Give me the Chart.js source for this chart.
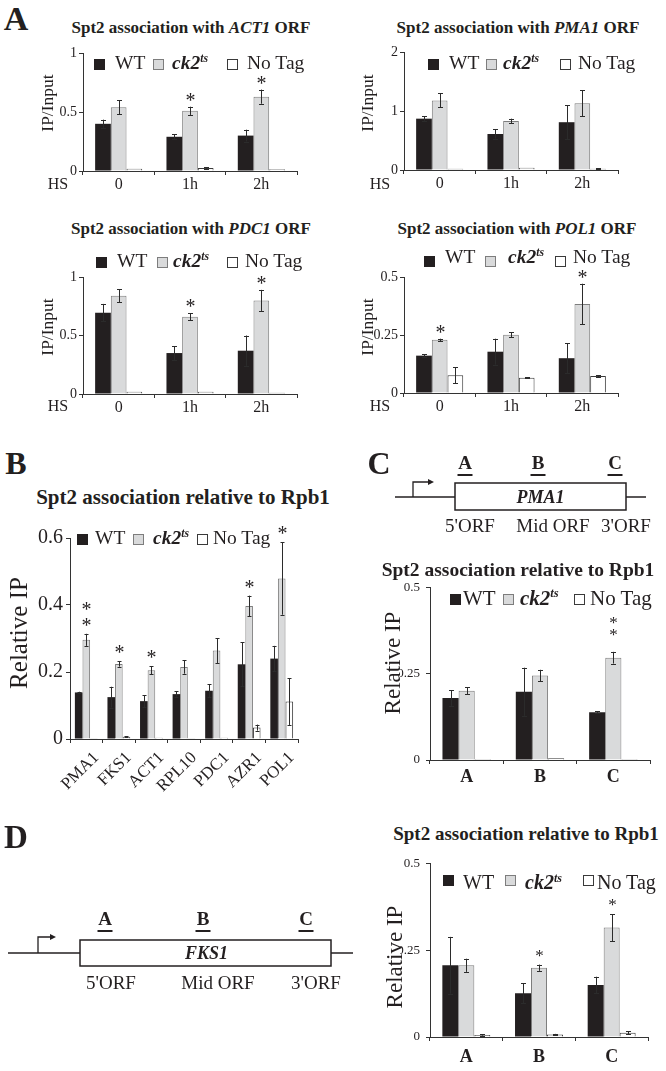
<!DOCTYPE html>
<html><head><meta charset="utf-8">
<script src="https://cdn.jsdelivr.net/npm/chart.js@4.4.0/dist/chart.umd.min.js"></script>
<style>
html,body{margin:0;padding:0;background:#fff;}
#page{position:relative;width:666px;height:1071px;overflow:hidden;font-family:'Liberation Serif','Times New Roman',serif;color:#231f20;}
.t{position:absolute;white-space:nowrap;line-height:1;}
canvas{position:absolute;}
svg{position:absolute;left:0;top:0;}
sup.ts{font-size:0.6em;vertical-align:0.6em;line-height:0;}
</style></head><body><div id="page"></div>
<script>
// ---------------- DATA ----------------
const hsCats = ['0', '1h', '2h'];
const act1WT = [0.40, 0.29, 0.30];
const act1WTErr = [0.035, 0.02, 0.05];
const act1CK = [0.54, 0.51, 0.63];
const act1CKErr = [0.06, 0.035, 0.06];
const act1NT = [0.02, 0.025, 0.015];
const act1NTErr = [0, 0.005, 0];
const act1Stars = [0, 1, 1];
const act1YTicks = [0, 0.5, 1];
const act1YLabels = ['0', '0.5', '1'];

const pma1WT = [0.87, 0.61, 0.81];
const pma1WTErr = [0.04, 0.08, 0.29];
const pma1CK = [1.18, 0.83, 1.13];
const pma1CKErr = [0.12, 0.04, 0.22];
const pma1NT = [0.02, 0.04, 0.02];
const pma1NTErr = [0, 0, 0.01];
const pma1Stars = [0, 0, 0];
const pma1YTicks = [0, 1, 2];
const pma1YLabels = ['0', '1', '2'];

const pdc1WT = [0.695, 0.35, 0.37];
const pdc1WTErr = [0.075, 0.06, 0.13];
const pdc1CK = [0.84, 0.66, 0.80];
const pdc1CKErr = [0.055, 0.03, 0.09];
const pdc1NT = [0.02, 0.02, 0.01];
const pdc1NTErr = [0, 0, 0];
const pdc1Stars = [0, 1, 1];
const pdc1YTicks = [0, 0.5, 1];
const pdc1YLabels = ['0', '0.5', '1'];

const pol1WT = [0.161, 0.178, 0.150];
const pol1WTErr = [0.007, 0.056, 0.065];
const pol1CK = [0.229, 0.251, 0.384];
const pol1CKErr = [0.005, 0.011, 0.087];
const pol1NT = [0.076, 0.066, 0.073];
const pol1NTErr = [0.034, 0.002, 0.004];
const pol1Stars = [1, 0, 1];
const pol1YTicks = [0, 0.25, 0.5];
const pol1YLabels = ['0', '0.25', '0.5'];

const geneCats = ['PMA1', 'FKS1', 'ACT1', 'RPL10', 'PDC1', 'AZR1', 'POL1'];
const relWT = [0.139, 0.125, 0.113, 0.134, 0.144, 0.223, 0.240];
const relWTErr = [0.002, 0.031, 0.018, 0.008, 0.020, 0.066, 0.038];
const relCK = [0.296, 0.224, 0.205, 0.215, 0.264, 0.397, 0.479];
const relCKErr = [0.018, 0.008, 0.012, 0.020, 0.037, 0.031, 0.108];
const relNT = [0.002, 0.007, 0.004, 0.002, 0.004, 0.034, 0.112];
const relNTErr = [0, 0.001, 0, 0, 0, 0.009, 0.07];
const relStars = [2, 1, 1, 0, 0, 1, 1];
const relYTicks = [0, 0.2, 0.4, 0.6];
const relYLabels = ['0', '0.2', '0.4', '0.6'];

const regionCats = ['A', 'B', 'C'];
const pmaRegWT = [0.180, 0.198, 0.139];
const pmaRegWTErr = [0.023, 0.07, 0.002];
const pmaRegCK = [0.201, 0.245, 0.297];
const pmaRegCKErr = [0.010, 0.017, 0.017];
const pmaRegNT = [0.003, 0.005, 0.003];
const pmaRegNTErr = [0, 0, 0];
const pmaRegStars = [0, 0, 2];
const regYTicks = [0, 0.25, 0.5];
const regYLabels = ['0', '0.25', '0.5'];

const fksRegWT = [0.207, 0.126, 0.150];
const fksRegWTErr = [0.082, 0.029, 0.024];
const fksRegCK = [0.207, 0.200, 0.316];
const fksRegCKErr = [0.019, 0.009, 0.039];
const fksRegNT = [0.006, 0.007, 0.012];
const fksRegNTErr = [0.002, 0.002, 0.004];
const fksRegStars = [0, 1, 1];

// ---------------- HELPERS ----------------
const page = document.getElementById('page');
const WT_COLOR = '#231f20', CK_FILL = '#d9dadb', CK_BORDER = '#7d7d7d', NT_BORDER = '#3a3a3a';
const SERIF = "'Liberation Serif','Times New Roman',serif";

const errPlugin = {
  id: 'errbars',
  afterDatasetsDraw(chart, args, opt) {
    const ctx = chart.ctx, y = chart.scales.y;
    ctx.save();
    chart.data.datasets.forEach((ds, di) => {
      const meta = chart.getDatasetMeta(di);
      ds.data.forEach((v, i) => {
        const e = ds.errors ? ds.errors[i] : 0;
        const bar = meta.data[i];
        const x = Math.round(bar.x) + 0.5;
        const yt = y.getPixelForValue(v + e);
        if (e > 0) {
          const yb = y.getPixelForValue(Math.max(0, v - e));
          ctx.strokeStyle = '#2b2b2b'; ctx.lineWidth = 1;
          ctx.beginPath();
          ctx.moveTo(x, yt); ctx.lineTo(x, yb);
          ctx.moveTo(x - opt.cap, Math.round(yt) + 0.5); ctx.lineTo(x + opt.cap, Math.round(yt) + 0.5);
          ctx.moveTo(x - opt.cap, Math.round(yb) + 0.5); ctx.lineTo(x + opt.cap, Math.round(yb) + 0.5);
          ctx.stroke();
        }
        const n = ds.stars ? ds.stars[i] : 0;
        for (let k = 0; k < n; k++) {
          ctx.font = opt.starFont; ctx.fillStyle = '#231f20';
          ctx.textAlign = 'center'; ctx.textBaseline = 'alphabetic';
          ctx.fillText('*', x, yt - opt.starOff - k * opt.starGap);
        }
      });
    });
    // rotated category labels (drawn at the library's tick positions)
    if (opt.rotLabels) {
      const xs = chart.scales.x;
      ctx.font = opt.rotFont; ctx.fillStyle = '#231f20';
      ctx.textAlign = 'right'; ctx.textBaseline = 'middle';
      chart.data.labels.forEach((lab, i) => {
        const px = xs.getPixelForTick(i) + opt.rotDx;
        const py = xs.top + opt.rotDy;
        ctx.save();
        ctx.translate(px, py);
        ctx.rotate(-Math.PI / 4);
        ctx.fillText(lab, 0, 0);
        ctx.restore();
      });
    }
    ctx.restore();
  }
};

function makeChart(o) {
  const padT = 12, padR = 6;
  const c = document.createElement('canvas');
  const w = (o.R - o.L) + o.yW + padR, h = (o.B - o.T) + padT + o.xH;
  c.width = w; c.height = h;
  c.style.left = (o.L - o.yW) + 'px'; c.style.top = (o.T - padT) + 'px';
  c.style.width = w + 'px'; c.style.height = h + 'px';
  page.appendChild(c);
  const ds = (label, data, errs, stars, bg, bc, bw) => ({
    label, data, errors: errs, stars, backgroundColor: bg, borderColor: bc, borderWidth: bw,
    categoryPercentage: o.catPct, barPercentage: 1
  });
  new Chart(c, {
    type: 'bar',
    data: {
      labels: o.labels, datasets: [
        ds('WT', o.wt, o.wtErr, null, WT_COLOR, WT_COLOR, 0),
        ds('ck2ts', o.ck, o.ckErr, o.stars, CK_FILL, CK_BORDER, 1),
        ds('No Tag', o.nt, o.ntErr, null, '#ffffff', NT_BORDER, 1)
      ]
    },
    options: {
      responsive: false, animation: false, devicePixelRatio: 1,
      layout: { padding: { top: padT, right: padR, left: 0, bottom: 0 } },
      plugins: {
        legend: { display: false }, tooltip: { enabled: false },
        errbars: { starFont: o.starFont, starOff: o.starOff, starGap: o.starGap || 14, cap: o.cap || 2.5,
          rotLabels: !!o.rotLabels, rotFont: o.rotFont, rotDx: o.rotDx || 0, rotDy: o.rotDy || 0 }
      },
      scales: {
        x: {
          grid: { display: true, drawOnChartArea: false, offset: true, tickLength: 4, color: '#333', lineWidth: 1 },
          border: { display: true, color: '#333', width: 1 },
          ticks: { display: !o.rotLabels, font: o.xFont, color: '#231f20', padding: o.xPad, maxRotation: 0, minRotation: 0, autoSkip: false },
          afterFit: s => { s.height = o.xH; }
        },
        y: {
          min: 0, max: o.ticks[o.ticks.length - 1],
          afterBuildTicks: s => { s.ticks = o.ticks.map(v => ({ value: v })); },
          ticks: { font: o.yFont, color: '#231f20', padding: o.yPad, callback: (v, i) => o.tickLabels[i] },
          grid: { display: true, drawOnChartArea: false, tickLength: 4, color: '#333' },
          border: { display: true, color: '#333', width: 1 },
          afterFit: s => { s.width = o.yW; }
        }
      }
    },
    plugins: [errPlugin]
  });
}

function txt(html, x, y, style, rot) {
  const d = document.createElement('div');
  d.className = 't';
  d.innerHTML = html;
  d.style.cssText += style;
  d.style.left = x + 'px'; d.style.top = y + 'px';
  d.style.transform = 'translate(-50%,-50%)' + (rot ? ' rotate(-90deg)' : '');
  page.appendChild(d);
  return d;
}
function ltxt(html, x, y, style) {
  const d = document.createElement('div');
  d.className = 't';
  d.innerHTML = html;
  d.style.cssText += style;
  d.style.left = x + 'px'; d.style.top = y + 'px';
  d.style.transform = 'translateY(-50%)';
  page.appendChild(d);
}
function box(x, y, s, fill, border) {
  const d = document.createElement('div');
  d.style.cssText = `position:absolute;left:${x}px;top:${y - s / 2}px;width:${s - 2}px;height:${s - 2}px;background:${fill};border:1px solid ${border};`;
  page.appendChild(d);
}
const CK_HTML = '<b><i>ck2<sup class="ts">ts</sup></i></b>';
function legend(y, fs, p, by) {
  const s = 11; by = by || y;
  box(p[0], by, s, WT_COLOR, WT_COLOR);
  ltxt('WT', p[1], y, `font-size:${fs}px;`);
  box(p[2], by, s, CK_FILL, CK_BORDER);
  ltxt(CK_HTML, p[3], y, `font-size:${fs}px;`);
  box(p[4], by, s, '#ffffff', NT_BORDER);
  ltxt('No Tag', p[5], y, `font-size:${fs}px;`);
}

// ---------------- CHARTS ----------------
const aCommon = { yW: 40, xH: 26, catPct: 0.66, xFont: { family: SERIF, size: 16 }, xPad: 0, yFont: { family: SERIF, size: 14 }, yPad: 2, starFont: '20px ' + SERIF, starOff: 0, cap: 2.5 };
makeChart(Object.assign({}, aCommon, { L: 83, R: 297, T: 53, B: 171, labels: hsCats, wt: act1WT, wtErr: act1WTErr, ck: act1CK, ckErr: act1CKErr, nt: act1NT, ntErr: act1NTErr, stars: act1Stars, ticks: act1YTicks, tickLabels: act1YLabels }));
makeChart(Object.assign({}, aCommon, { L: 404, R: 618, T: 52, B: 170, labels: hsCats, wt: pma1WT, wtErr: pma1WTErr, ck: pma1CK, ckErr: pma1CKErr, nt: pma1NT, ntErr: pma1NTErr, stars: pma1Stars, ticks: pma1YTicks, tickLabels: pma1YLabels }));
makeChart(Object.assign({}, aCommon, { L: 83, R: 297, T: 277, B: 394, labels: hsCats, wt: pdc1WT, wtErr: pdc1WTErr, ck: pdc1CK, ckErr: pdc1CKErr, nt: pdc1NT, ntErr: pdc1NTErr, stars: pdc1Stars, ticks: pdc1YTicks, tickLabels: pdc1YLabels }));
makeChart(Object.assign({}, aCommon, { L: 404, R: 618, T: 277, B: 393, labels: hsCats, wt: pol1WT, wtErr: pol1WTErr, ck: pol1CK, ckErr: pol1CKErr, nt: pol1NT, ntErr: pol1NTErr, stars: pol1Stars, ticks: pol1YTicks, tickLabels: pol1YLabels }));

makeChart({ L: 70, R: 298, T: 535, B: 739, yW: 45, xH: 60, catPct: 0.7, labels: geneCats,
  rotLabels: true, rotFont: '17px ' + SERIF, rotDx: 10, rotDy: 16,
  xFont: { family: SERIF, size: 17 }, xPad: 1, yFont: { family: SERIF, size: 20 }, yPad: 3,
  wt: relWT, wtErr: relWTErr, ck: relCK, ckErr: relCKErr, nt: relNT, ntErr: relNTErr, stars: relStars,
  ticks: relYTicks, tickLabels: relYLabels, starFont: '20px ' + SERIF, starOff: 2, starGap: 16, cap: 2 });

makeChart({ L: 430, R: 650, T: 586, B: 760, yW: 30, xH: 30, catPct: 0.66, labels: regionCats,
  xFont: { family: SERIF, size: 18, weight: 'bold' }, xPad: 3, yFont: { family: SERIF, size: 13 }, yPad: 6,
  wt: pmaRegWT, wtErr: pmaRegWTErr, ck: pmaRegCK, ckErr: pmaRegCKErr, nt: pmaRegNT, ntErr: pmaRegNTErr, stars: pmaRegStars,
  ticks: regYTicks, tickLabels: regYLabels, starFont: '17px ' + SERIF, starOff: 12, starGap: 12, cap: 2.5 });

makeChart({ L: 430, R: 648, T: 862, B: 1037, yW: 30, xH: 30, catPct: 0.66, labels: regionCats,
  xFont: { family: SERIF, size: 18, weight: 'bold' }, xPad: 6, yFont: { family: SERIF, size: 13 }, yPad: 6,
  wt: fksRegWT, wtErr: fksRegWTErr, ck: fksRegCK, ckErr: fksRegCKErr, nt: fksRegNT, ntErr: fksRegNTErr, stars: fksRegStars,
  ticks: regYTicks, tickLabels: regYLabels, starFont: '17px ' + SERIF, starOff: 4, starGap: 12, cap: 2.5 });

// ---------------- TEXT ----------------
const T17 = 'font-size:17px;font-weight:bold;';
txt('A', 16, 19, 'font-size:34px;font-weight:bold;');
txt('Spt2 association with <i>ACT1</i> ORF', 191, 27, T17);
txt('Spt2 association with <i>PMA1</i> ORF', 518, 27, T17);
txt('Spt2 association with <i>PDC1</i> ORF', 191, 228, T17);
txt('Spt2 association with <i>POL1</i> ORF', 517, 228, T17);
legend(63, 19.5, [94, 115, 153, 172, 227, 247], 64);
legend(63, 19.5, [428, 449, 486, 503, 560, 578], 64);
legend(261, 19.5, [96, 117, 157, 173, 227, 245], 262);
legend(257, 19.5, [424, 445, 485, 508, 555, 573], 261);
const YT_A = 'font-size:17.5px;';
txt('IP/Input', 48, 103, YT_A, true);
txt('IP/Input', 368, 103, YT_A, true);
txt('IP/Input', 48, 327, YT_A, true);
txt('IP/Input', 368, 327, YT_A, true);
txt('HS', 58, 184, 'font-size:16px;');
txt('HS', 380, 184, 'font-size:16px;');
txt('HS', 58, 406, 'font-size:16px;');
txt('HS', 380, 406, 'font-size:16px;');

txt('B', 16, 463, 'font-size:32px;font-weight:bold;');
txt('Spt2 association relative to Rpb1', 183, 497, 'font-size:21px;font-weight:bold;');
legend(538, 19.5, [77, 95, 133, 153, 197, 213], 539);
txt('Relative IP', 18, 633, 'font-size:25px;', true);

txt('C', 379, 463, 'font-size:32px;font-weight:bold;');
txt('Spt2 association relative to Rpb1', 518, 570, 'font-size:19.5px;font-weight:bold;');
legend(598, 21, [450, 463, 503, 520, 574, 590], 599);
txt('Relative IP', 392, 663, 'font-size:23px;', true);

txt('D', 16, 837, 'font-size:33px;font-weight:bold;');
txt('Spt2 association relative to Rpb1', 526, 833, 'font-size:19px;font-weight:bold;');
legend(882, 20, [443, 463, 505, 525, 583, 597], 880);
txt('Relative IP', 394, 957, 'font-size:23px;', true);

// ---------------- GENE DIAGRAMS ----------------
const NS = 'http://www.w3.org/2000/svg';
const svg = document.createElementNS(NS, 'svg');
svg.setAttribute('width', 666); svg.setAttribute('height', 1071);
page.appendChild(svg);
function el(tag, attrs, text) {
  const e = document.createElementNS(NS, tag);
  for (const k in attrs) e.setAttribute(k, attrs[k]);
  if (text) e.textContent = text;
  svg.appendChild(e); return e;
}
function stext(s, x, y, fs, weight, style) {
  el('text', { x, y, 'font-size': fs, 'font-family': SERIF, 'font-weight': weight || 'normal', 'font-style': style || 'normal', 'text-anchor': 'middle', 'dominant-baseline': 'central', fill: '#231f20' }, s);
}
function gene(g) {
  el('line', { x1: g.x0, y1: g.ly, x2: g.bx0, y2: g.ly, stroke: '#231f20', 'stroke-width': 1.5 });
  el('line', { x1: g.bx1, y1: g.ly, x2: g.x1, y2: g.ly, stroke: '#231f20', 'stroke-width': 1.5 });
  el('rect', { x: g.bx0, y: g.by0, width: g.bx1 - g.bx0, height: g.by1 - g.by0, fill: '#fff', stroke: '#231f20', 'stroke-width': 1.5 });
  el('path', { d: `M${g.ax},${g.ly} V${g.ay} H${g.ax2 - 5}`, fill: 'none', stroke: '#231f20', 'stroke-width': 1.3 });
  el('path', { d: `M${g.ax2 - 6},${g.ay - 3} L${g.ax2},${g.ay} L${g.ax2 - 6},${g.ay + 3} Z`, fill: '#231f20' });
  stext(g.name, (g.bx0 + g.bx1) / 2 + g.nameDx, g.ly, 18, 'bold', 'italic');
  g.letters.forEach((L, i) => {
    stext(L, g.lx[i], g.lty, 19, 'bold');
    el('line', { x1: g.lx[i] - 7.5, y1: g.uy, x2: g.lx[i] + 7.5, y2: g.uy, stroke: '#231f20', 'stroke-width': 2 });
  });
  g.sub.forEach((s, i) => stext(s, g.sx[i], g.sy, 19));
}
gene({ x0: 395, x1: 646, bx0: 455, bx1: 626, ly: 497, by0: 483, by1: 510, ax: 413, ay: 482, ax2: 434,
  name: 'PMA1', nameDx: 0, letters: regionCats, lx: [465, 538, 615], lty: 462, uy: 475,
  sub: ["5'ORF", 'Mid ORF', "3'ORF"], sx: [470, 553, 626], sy: 525 });
gene({ x0: 8, x1: 353, bx0: 80, bx1: 331, ly: 953, by0: 940, by1: 966, ax: 38, ay: 937, ax2: 56,
  name: 'FKS1', nameDx: 1, letters: regionCats, lx: [105, 203, 306], lty: 918, uy: 931,
  sub: ["5'ORF", 'Mid ORF', "3'ORF"], sx: [111, 218, 316], sy: 982 });
</script>
</body></html>
